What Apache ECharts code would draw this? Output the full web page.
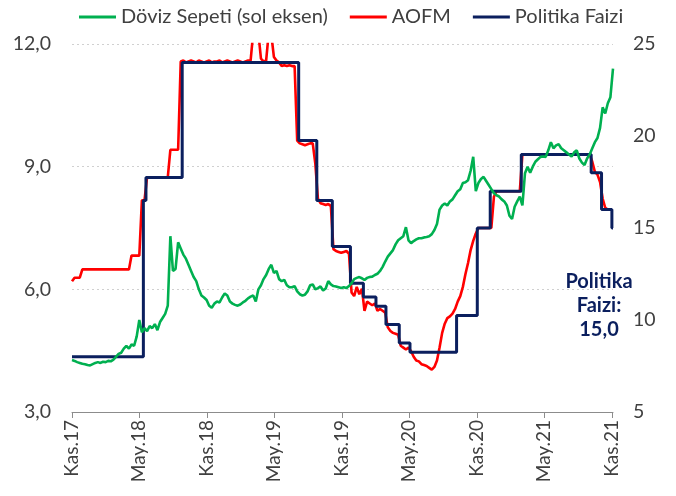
<!DOCTYPE html>
<html>
<head>
<meta charset="utf-8">
<script src="https://cdn.jsdelivr.net/npm/echarts@6/dist/echarts.min.js"></script>
<style>
html,body{margin:0;padding:0;background:#fff;}
#chart{width:676px;height:496px;}
</style>
</head>
<body>
<div id="chart"></div>
<script>
// ---- data ----
const startDate = '2017-11-20';   // first weekly observation
const endDate = '2021-11-22';
const tickDates = ['2017-11-20','2018-05-20','2018-11-20','2019-05-20','2019-11-20','2020-05-20','2020-11-20','2021-05-20','2021-11-20'];
const tickLabels = ['Kas.17','May.18','Kas.18','May.19','Kas.19','May.20','Kas.20','May.21','Kas.21'];

// Döviz Sepeti (left axis), weekly from startDate
const basketValues = [
  4.27,4.25,4.22,4.2,4.18,4.17,4.15,4.14,4.17,4.2,
  4.22,4.2,4.23,4.22,4.25,4.24,4.28,4.35,4.42,4.45,
  4.55,4.62,4.55,4.65,4.62,4.85,5.25,4.95,5.05,4.98,
  5.1,5.05,5.15,5.0,5.2,5.3,5.4,5.6,7.3,6.45,
  6.5,7.15,7.0,6.85,6.75,6.6,6.45,6.3,6.2,6.0,
  5.85,5.8,5.74,5.6,5.55,5.65,5.7,5.68,5.8,5.9,
  5.85,5.7,5.65,5.62,5.6,5.63,5.68,5.72,5.78,5.82,
  5.85,5.7,6.0,6.1,6.25,6.35,6.5,6.6,6.4,6.45,
  6.25,6.2,6.23,6.1,6.05,6.05,6.08,5.95,5.88,5.85,
  5.87,5.95,6.1,6.12,6.0,6.03,6.07,5.97,6.02,6.2,
  6.12,6.08,6.07,6.05,6.03,6.05,6.03,6.08,6.15,6.25,
  6.28,6.3,6.27,6.23,6.28,6.3,6.31,6.35,6.38,6.45,
  6.55,6.68,6.8,6.88,6.96,7.1,7.2,7.25,7.3,7.52,
  7.2,7.13,7.18,7.22,7.25,7.25,7.27,7.28,7.3,7.35,
  7.45,7.6,7.95,8.05,8.1,8.05,8.15,8.2,8.3,8.4,
  8.45,8.6,8.62,8.67,8.9,9.24,8.4,8.6,8.7,8.75,
  8.65,8.55,8.45,8.35,8.3,8.27,8.2,8.15,8.05,7.8,
  7.72,8.02,8.15,8.27,8.05,8.84,9.0,8.85,9.0,9.12,
  9.18,9.24,9.25,9.24,9.4,9.6,9.45,9.52,9.55,9.45,
  9.4,9.35,9.3,9.25,9.35,9.4,9.2,9.1,9.04,9.2,
  9.3,9.45,9.6,9.7,9.95,10.45,10.3,10.55,10.7,11.4
];

// AOFM (right axis), weekly from startDate
const aofmValues = [
  12.1,12.3,12.3,12.3,12.75,12.75,12.75,12.75,12.75,12.75,
  12.75,12.75,12.75,12.75,12.75,12.75,12.75,12.75,12.75,12.75,
  12.75,12.75,12.75,13.5,13.5,13.5,13.5,16.5,16.5,17.75,
  17.75,17.75,17.75,17.75,17.75,17.75,17.75,17.75,19.25,19.25,
  19.25,19.25,24.05,24.1,24.0,24.05,24.1,24.05,24.0,24.1,
  24.05,24.0,24.05,24.1,24.0,24.05,24.05,24.1,24.0,24.05,
  24.1,24.05,24.0,24.05,24.1,24.05,24.0,24.05,24.1,24.1,
  25.6,25.3,25.6,24.2,24.05,24.1,25.6,25.5,24.3,24.1,
  24.0,23.8,23.85,23.8,23.85,23.8,23.8,19.75,19.6,19.55,
  19.5,19.55,19.6,19.6,18.5,16.6,16.35,16.3,16.25,16.3,
  16.2,13.85,13.75,13.7,13.65,13.7,13.75,13.6,11.5,11.3,
  11.8,11.4,11.7,10.5,11.0,10.9,10.8,10.9,10.5,10.6,
  10.5,10.4,9.6,9.4,9.3,9.25,9.2,8.6,8.5,8.4,
  8.5,8.3,8.0,7.8,7.75,7.6,7.55,7.5,7.4,7.3,
  7.45,7.8,8.5,9.3,9.8,10.1,10.2,10.35,10.6,11.0,
  11.3,11.8,12.5,13.1,13.8,14.3,14.7,15.0,15.0,15.0,
  15.0,15.0,15.0,16.7,17.0,17.0,17.0,17.0,17.0,17.0,
  17.0,17.0,17.0,17.0,19.0,19.0,19.0,19.0,19.0,19.0,
  19.0,19.0,19.0,19.0,19.0,19.0,19.0,19.0,19.0,19.0,
  19.0,19.0,19.0,19.0,19.0,19.0,19.0,19.0,19.0,19.0,
  19.0,18.6,18.05,17.9,17.5,16.6,16.1,16.0,16.0
];

// Politika Faizi (right axis): effective dates and rates
const policyDates = ['2017-11-20','2018-06-01','2018-06-08','2018-09-14','2019-07-26','2019-09-13','2019-10-25','2019-12-13','2020-01-17','2020-02-20','2020-03-18','2020-04-23','2020-05-22','2020-09-25','2020-11-20','2020-12-25','2021-03-19','2021-09-24','2021-10-22','2021-11-19','2021-11-22'];
const policyRates = [8.0,16.5,17.75,24.0,19.75,16.5,14.0,12.0,11.25,10.75,9.75,8.75,8.25,10.25,15.0,17.0,19.0,18.0,16.0,15.0,15.0];

const seriesNames = ['Döviz Sepeti (sol eksen)','AOFM','Politika Faizi'];
const noteText = 'Politika\nFaizi:\n15,0';

// ---- build ----
const DAY = 86400000;
function dayNo(s){ const p = s.split('-').map(Number); return Math.round(Date.UTC(p[0], p[1]-1, p[2]) / DAY); }
const d0 = dayNo(startDate);
const xOf = s => dayNo(s) - d0;              // days since start
const weekly = vals => vals.map((v,i) => [i*7, v]);
const tickX = tickDates.map(xOf);
const policyData = policyDates.map((d,i) => [xOf(d), policyRates[i]]);

const FONT = 'Lato';
const chart = echarts.init(document.getElementById('chart'), null, {renderer:'canvas'});
chart.setOption({
  animation:false,
  backgroundColor:'#ffffff',
  legend:{
    top:2, left:74,
    itemWidth:37, itemHeight:3, itemGap:22,
    icon:'rect',
    textStyle:{fontFamily:FONT, fontSize:20, color:'#404040'},
    data:seriesNames
  },
  grid:{left:72, right:63, top:44, bottom:84},
  xAxis:{
    type:'value',
    min:0, max:xOf(endDate),
    axisLine:{show:true, onZero:false, lineStyle:{color:'#8c8c8c', width:1}},
    axisTick:{show:true, customValues:tickX, length:6, lineStyle:{color:'#8c8c8c'}},
    axisLabel:{
      customValues:tickX, rotate:90, margin:8,
      fontFamily:FONT, fontSize:19, color:'#404040',
      formatter:function(v){
        const i = tickX.indexOf(Math.round(v));
        return i >= 0 ? tickLabels[i] : '';
      }
    },
    splitLine:{show:false}
  },
  yAxis:[
    {
      type:'value', min:3, max:12, interval:3, position:'left',
      axisLine:{show:false}, axisTick:{show:false},
      axisLabel:{margin:21, fontFamily:FONT, fontSize:19.5, color:'#404040',
        formatter:v=>v.toFixed(1).replace('.',',')},
      splitLine:{show:true, lineStyle:{color:'#d0d0d0', type:[2,3], width:1.2}}
    },
    {
      type:'value', min:5, max:25, interval:5, position:'right',
      axisLine:{show:false}, axisTick:{show:false},
      axisLabel:{margin:20, fontFamily:FONT, fontSize:19.5, color:'#404040'},
      splitLine:{show:false}
    }
  ],
  series:[
    {
      name:seriesNames[1], type:'line', yAxisIndex:1, data:weekly(aofmValues),
      showSymbol:false, symbol:'none', clip:true,
      lineStyle:{color:'#ff0000', width:2.6}, itemStyle:{color:'#ff0000'}, z:2
    },
    {
      name:seriesNames[2], type:'line', yAxisIndex:1, data:policyData, step:'end',
      showSymbol:false, symbol:'none',
      lineStyle:{color:'#0b1f5e', width:3}, itemStyle:{color:'#0b1f5e'}, z:3
    },
    {
      name:seriesNames[0], type:'line', yAxisIndex:0, data:weekly(basketValues),
      showSymbol:false, symbol:'none',
      lineStyle:{color:'#00b050', width:2.6}, itemStyle:{color:'#00b050'}, z:4
    }
  ],
  graphic:[{
    type:'text', x:599, y:270, z:10,
    style:{text:noteText, fontFamily:FONT, fontWeight:'bold', fontSize:20, lineHeight:24,
      fill:'#0b1f5e', align:'center', verticalAlign:'top'}
  }]
});
</script>
</body>
</html>
